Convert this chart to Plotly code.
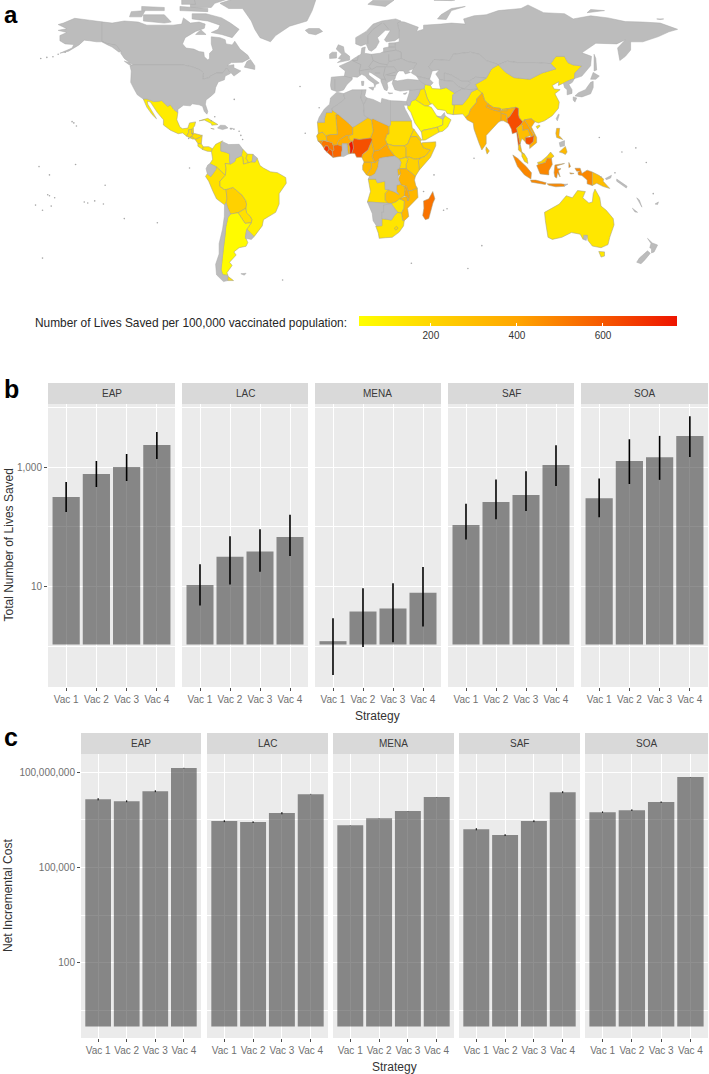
import plotly.graph_objects as go
from plotly.colors import sample_colorscale

W, H = 709, 1074
GRAY = "#bcbcbc"
COLOR_SCALE = [[0, "#FFFF00"], [0.5, "#FFA500"], [1, "#EE1400"]]
VMIN, VMAX = 33, 772
LEGEND_TITLE = "Number of Lives Saved per 100,000 vaccinated population:"
LEGEND_TICKS = [200, 400, 600]

# ---- bar data -------------------------------------------------------------
STRATEGIES = ["Vac 1", "Vac 2", "Vac 3", "Vac 4"]
REGIONS = ["EAP", "LAC", "MENA", "SAF", "SOA"]

LIVES = {
    "EAP": [316, 765, 1000, 2326],
    "LAC": [10.8, 32, 39, 68],
    "MENA": [1.25, 3.9, 4.4, 8.0],
    "SAF": [108, 260, 340, 1080],
    "SOA": [300, 1260, 1450, 3300],
}
LIVES_LOW = {
    "EAP": [178, 464, 584, 1359],
    "LAC": [4.9, 11, 18, 33],
    "MENA": [0.34, 1.0, 1.2, 2.2],
    "SAF": [62, 135, 185, 480],
    "SOA": [145, 520, 610, 1470],
}
LIVES_HIGH = {
    "EAP": [562, 1259, 1648, 3831],
    "LAC": [24, 70, 92, 160],
    "MENA": [3.0, 9.5, 11.5, 21.5],
    "SAF": [245, 620, 850, 2300],
    "SOA": [640, 2900, 3300, 7000],
}
COST = {
    "EAP": [1.41e7, 1.22e7, 2.52e7, 1.34e8],
    "LAC": [2.88e6, 2.68e6, 5.14e6, 2.03e7],
    "MENA": [2.15e6, 3.57e6, 5.94e6, 1.64e7],
    "SAF": [1.61e6, 1.05e6, 2.88e6, 2.35e7],
    "SOA": [5.52e6, 6.38e6, 1.14e7, 6.97e7],
}
COST_ERR_FRAC = {
    "EAP": [0.08, 0.07, 0.07, 0.02],
    "LAC": [0.07, 0.06, 0.08, 0.02],
    "MENA": [0.01, 0.01, 0.01, 0.01],
    "SAF": [0.08, 0.07, 0.07, 0.07],
    "SOA": [0.05, 0.06, 0.05, 0.01],
}
BASE_B, BASE_C = 1.1, 1.0

# ---- map data: (lon, lat) outlines ---------------------------------------
GRAY_LANDS = {
    "Canada": [(-141,69.6),(-135,69),(-128,70),(-120,69.5),(-115,68),(-108,68),(-100,68),(-95,68.5),(-94,71.5),(-90,69),(-85,69.5),(-81.5,68.5),(-82,66.5),(-87,65),(-93,62),(-94.5,59),(-92.5,57),(-88,56.5),(-85,55.3),(-82.3,55),(-82,52.8),(-80,51.3),(-79,52),(-79,54.5),(-77,56),(-78,59),(-78,62.4),(-73,62),(-70,61),(-69.5,59),(-66,58.5),(-64.5,60.3),(-61.5,56.5),(-57,53.5),(-56,52),(-60,50.2),(-66.5,50),(-69,48.5),(-65,49),(-65,47.5),(-61,46),(-65,43.5),(-66.5,45),(-67.5,45.5),(-69.2,47.4),(-71.5,45),(-75,45),(-79,43.3),(-79,42.8),(-83,42),(-82.5,45),(-84.5,46.5),(-89,48),(-95,49),(-123,49),(-125,50),(-128,52),(-130,54.5),(-130,55.5),(-133,58.5),(-137.5,59),(-141,60.3)],
    "Alaska": [(-141,69.6),(-148,70.4),(-156.5,71.3),(-163,69),(-166,68.3),(-161,66.3),(-166,65.5),(-161,64.5),(-165,63),(-165,60.5),(-162,59),(-157,58.7),(-158,57),(-165,54.5),(-160,55.5),(-154,58.5),(-151,60.8),(-148,60.5),(-144,60),(-141,60),(-137.5,58.5),(-135,57.5),(-131,55),(-130,55.5),(-133,58.5),(-137.5,59),(-141,60.3)],
    "USA": [(-123,49),(-95,49),(-89,48),(-84.5,46.5),(-82.5,45),(-83,42),(-79,42.8),(-79,43.3),(-75,45),(-71.5,45),(-69.2,47.4),(-67.5,45.5),(-67,44.8),(-70,43.5),(-70.5,41.7),(-74,40.7),(-75.5,38),(-76,35.5),(-78,34),(-81,32),(-81.4,30),(-80,26.5),(-80.5,25.2),(-82,26.5),(-83,29),(-85,29.7),(-89,30.2),(-90,29.2),(-94,29.5),(-97.2,27.5),(-97.2,26),(-99.5,27.5),(-101.5,29.8),(-103,29),(-106.5,31.8),(-108.2,31.4),(-111,31.3),(-114.8,32.5),(-117.1,32.5),(-120.5,34.5),(-122.5,37.5),(-124.3,40.5),(-124,46),(-124.7,48.4)],
    "Baffin": [(-62,66),(-66,62),(-72,63.5),(-78,64.5),(-74,66),(-73,68),(-80,70),(-89,71),(-89,73.5),(-81,73.5),(-72,71.5),(-67,69)],
    "Victoria": [(-117,70),(-105,69),(-101,69.5),(-105,73),(-117,73)],
    "Banks": [(-125,72),(-118,72),(-116,75),(-124,74.5)],
    "Ellesmere": [(-90,76.5),(-78,76.5),(-76,78.5),(-65,81.5),(-62,83),(-90,82)],
    "Devon": [(-96,75),(-80,74.5),(-80,76),(-96,77)],
    "Melville": [(-118,75),(-105,75),(-105,76.5),(-118,77)],
    "Axel": [(-95,78),(-87,78),(-88,81),(-95,81)],
    "Newfoundland": [(-59,47.8),(-53,46.7),(-53,48.5),(-55.5,51.5),(-57.5,50.5)],
    "Vancouver": [(-128,50.7),(-125,50),(-123.5,48.5),(-125,48.8)],
    "Southampton": [(-87,63.5),(-81,63.5),(-84,65.8)],
    "Greenland": [(-73,78.5),(-68,76),(-60,76),(-55,70),(-53,66),(-50,62),(-44,60),(-41,63),(-33,67.5),(-23,70),(-20,75),(-18,80),(-25,83),(-50,82.5),(-62,81.5)],
    "Iceland": [(-24,65.5),(-22,64),(-18,63.4),(-14,65),(-16,66.4),(-22,66.4)],
    "Hispaniola": [(-74.4,18.5),(-72.8,19.9),(-70,19.8),(-68.4,18.6),(-71.5,17.8)],
    "PuertoRico": [(-67.2,18.5),(-65.7,18.4),(-66,18),(-67.2,18)],
    "Venezuela": [(-72.5,11),(-71.5,12),(-68,10.6),(-62,10.7),(-60,8.5),(-60.7,5.2),(-64,4),(-64.5,2.5),(-67,1.2),(-67.5,2.8),(-67.5,6.2),(-70,7),(-72.5,7.5)],
    "FrGuiana": [(-54,5.9),(-51.7,4.2),(-52.8,2.2),(-54.5,2.3)],
    "Ecuador": [(-78.8,1.4),(-75.2,-0.1),(-75.5,-1.5),(-78.3,-4.8),(-80.3,-3.4),(-81,-1),(-80,0.8)],
    "Uruguay": [(-58.4,-33.9),(-57.6,-30.2),(-53.4,-33.7),(-55,-35),(-58.4,-34.5)],
    "Chile": [(-70.4,-18.4),(-69.5,-17.5),(-68.5,-20),(-67,-22.8),(-68.5,-24.5),(-69.7,-29),(-70,-33),(-71,-39),(-71.7,-44),(-72.4,-49.5),(-71.5,-52),(-68.4,-52.3),(-68.6,-54.8),(-71,-55.3),(-75,-52),(-75.5,-47),(-73.5,-42),(-73.5,-37),(-71.5,-30),(-70.5,-24)],
    "Falklands": [(-61,-51.5),(-58,-51.3),(-59,-52.2)],
    "Morocco": [(-5.9,35.8),(-2,35.1),(-1.2,32.5),(-5,30),(-8.7,28),(-8.7,26),(-12,26),(-13,23),(-13,21.3),(-17,21.3),(-16,23.7),(-13,27.7),(-10,30),(-9.5,33)],
    "Algeria": [(-2,35.1),(3,36.9),(8.6,36.9),(8,33),(9.5,30),(10,24.5),(12,23.5),(4,19.1),(3.2,19),(1.2,20.7),(-4.9,25),(-8.7,27.3),(-8.7,28),(-5,30),(-1.2,32.5)],
    "Tunisia": [(8.6,36.9),(11,37),(10.2,34),(11.5,33),(10,30.2),(9.5,30),(8,33)],
    "Libya": [(11.5,33),(15,32.3),(19.5,30.5),(20,32.8),(25,31.7),(25,20),(24,19.5),(15,23),(14,22.6),(12,23.5),(10,24.5),(9.5,30),(10,30.2)],
    "Egypt": [(25,31.7),(31,31.5),(34.2,31.3),(34.9,29.5),(32.6,29.5),(33.5,27.5),(37,22),(25,22)],
    "DRCongo": [(12.2,-6),(13,-4.6),(14,-4.5),(16,-3.5),(17.7,-0.5),(18.5,3.5),(19,4),(22,4.5),(27.5,5),(30,3.5),(31,2),(30,-1),(29,-1.3),(29,-2.5),(29.5,-4.4),(29.5,-6.2),(30.7,-8.5),(28.5,-9),(28.5,-12),(29.8,-13.4),(27,-12),(23.5,-11),(22,-11),(21.8,-7),(17.5,-7.8),(16.5,-6)],
    "Ghana": [(-3.2,5),(-2,4.8),(0.7,6),(0.3,8),(0,11),(-2.8,11),(-2.7,8),(-3.2,6.5)],
    "Namibia": [(11.7,-17),(13.5,-17),(18.5,-17.4),(23.5,-17.6),(25.3,-17.8),(21,-18.5),(21,-22),(20,-22),(20,-28.4),(17,-28.6),(15,-26),(14.5,-22.5)],
    "Botswana": [(21,-18.5),(25.3,-17.8),(29,-22),(27,-23.7),(25.5,-25.7),(23,-25.3),(20,-25),(20,-22),(21,-22)],
    "Russia": [(28,70),(33,69.5),(41,67),(40,65),(44,66),(44,68),(54,68.5),(60,69),(68,68.5),(67,71),(73,72.5),(80,73),(87,75),(100,76),(104,77.7),(113,74),(125,73.5),(130,71),(140,72.5),(150,71.5),(160,69.7),(170,69.5),(180,69),(190,66),(185,64.8),(179,62.5),(170,60),(163,60),(163,56),(160,53),(156.8,51),(155.5,57),(160,61),(155,59),(143,59.3),(135,54.7),(140.5,53),(140,48.5),(135,43.5),(130.7,42.3),(131,45),(135,48.4),(130,48.9),(127,50),(125,53),(120,53),(117,49.5),(108,50),(98,50),(92,50.7),(87,49),(80,51),(76,54),(71,55),(61,54),(59,51),(50,51.5),(47,48),(49,46),(47.5,42),(40,43.5),(37,45),(38,47),(40,49.6),(35,50.5),(31,52),(31,55),(28,56),(27.5,59.5),(30,60),(30,62),(30,65),(29,69)],
    "Sakhalin": [(142,54),(143,52),(143.5,46.5),(142,46),(142,50)],
    "NovayaZemlya": [(52,71),(57,70.7),(60,75),(68,77),(60,76),(54,73)],
    "Svalbard": [(12,78),(22,77),(27,80),(15,80)],
    "FranzJosef": [(50,80),(60,79.8),(62,80.1),(50,80.1)],
    "Novosibirsk": [(138,74),(148,75),(140,75.5)],
    "Wrangel": [(178,71),(182,71),(180,70.7)],
    "Kazakhstan": [(50,51.5),(59,51),(61,54),(71,55),(76,54),(80,51),(87,49),(83,47),(80,42.5),(74,43),(70,41),(66,41),(60,44),(56,45),(56,41.3),(53,42),(51,44.5),(53,46.5),(49,46),(47,48)],
    "Uzbekistan": [(56,45),(60,44),(66,41),(70,41),(71,40),(67.5,37.2),(64,38.5),(61,41),(56,41.3)],
    "Turkmenistan": [(53,42),(56,41.3),(61,41),(64,38.5),(67.5,37.2),(66,37.3),(62,35.3),(57,38),(53.8,37.3),(53,40)],
    "KyrgyzTajik": [(70,41),(74,43),(80,42.5),(73.7,39.5),(75,37.3),(71,37),(67.5,37.2),(71,40)],
    "Afghanistan": [(60.8,34.5),(60.5,29.8),(66.3,29.8),(69.5,33),(71.5,36),(75,37.3),(71,37),(67.5,37.2),(66,37.3),(62,35.3)],
    "UAE": [(51.5,24.2),(54,24.1),(56,26),(56.3,24.5),(55.2,22.7)],
    "Levant": [(36,36.8),(42.2,37.2),(41,34.4),(39.2,32.2),(37,31.5),(36,29.2),(34.9,29.5),(34.2,31.3),(35.8,35.5)],
    "Turkey": [(26,40),(26.5,41.7),(29,41.2),(35,42),(41.5,41.5),(44.8,39.5),(44.3,37.5),(42.2,37.2),(36,36.8),(30.5,36.3),(27.5,37)],
    "Caucasus": [(40,43.5),(47.5,42),(49.5,40.3),(48,39),(44.8,39.5),(41.5,41.5)],
    "Ukraine": [(22.5,48),(24,50.5),(31,52),(35,50.5),(40,49.6),(38,47),(35,46),(36.5,45.3),(33.5,44.5),(32.5,46),(30,46),(29,45.3),(27,48)],
    "Europe": [(-9,43),(-1.5,43.5),(-1,46),(-4.5,48.3),(1.5,50.5),(4,52),(8,54),(8.5,57),(10.5,57.5),(10,54.5),(14,54),(19,54.5),(21,55.3),(21,57),(24,57.5),(24,59.4),(27.5,59.5),(28,56),(31,55),(31,52),(24,50.5),(22.5,48),(27,48),(29,45.3),(28,43.5),(27.5,42),(26.2,41.7),(24,40.8),(23,40.3),(23.5,38),(23,36.5),(21.5,37),(19.5,41),(19.5,42),(14,45),(12.5,45.5),(12.5,44),(16,41.8),(18.5,40.2),(16.5,39.5),(16,38),(15.5,40),(12,42),(10.5,43.5),(8.5,44.4),(6,43),(3,43.2),(3,41.9),(0,39.5),(-2,36.8),(-5.5,36),(-9,37),(-9.5,39)],
    "Scandinavia": [(5,59),(5,62),(11,65),(15,68.5),(20,70),(28,71),(31,70),(29,69),(30,65),(30,62),(27.5,60.5),(22.5,60),(21.5,61),(25,65.5),(22,65.5),(17.5,62),(18.5,60),(16.5,57),(14,55.5),(12.5,56),(11,59),(8,58)],
    "Britain": [(-5.5,50),(1.5,51.2),(1.5,53),(-1.5,55),(-2,57.6),(-5,58.6),(-6.2,56.5),(-3,54),(-5,52),(-3,51.4)],
    "Ireland": [(-10,52),(-6,52.2),(-6,55),(-8.5,55),(-10,54)],
    "Sardinia": [(8.3,41),(9.7,41),(9.5,39),(8.5,39)],
    "Sicily": [(12.5,38),(15.5,38.2),(15,36.7)],
    "Crete": [(23.5,35.5),(26.3,35.3),(24.5,35)],
    "Cyprus": [(32.3,35),(34.5,35.6),(33.5,34.7)],
    "Mongolia": [(87,49),(92,50.7),(98,50),(108,50),(117,49.5),(120,47),(116,46),(112,45),(105,42),(96,42.8),(91,45.5)],
    "Korea": [(124.4,40),(128,41.5),(130.7,42.3),(129.5,40.5),(127.5,39.5),(129.3,37),(129.3,35.2),(126.5,34.5),(126.5,37),(125,38)],
    "Honshu": [(131,34),(135,33.5),(140,35),(141.5,38),(141.5,41),(140,40.5),(137,37),(133,35.5)],
    "Kyushu": [(130,33.5),(132,33),(131,31),(130,32)],
    "Hokkaido": [(140,42),(141.5,45.3),(145,43.5),(143,42)],
    "Taiwan": [(120.2,23),(121.5,25.2),(122,25),(120.9,22)],
    "Visayas": [(122,11.5),(125,12.5),(125,10),(122.5,9.5)],
    "NewBritain": [(148.5,-5.7),(152,-4.2),(151.5,-5.5),(149,-6.3)],
    "Solomon": [(155,-6),(161,-9.5),(160.5,-10.3),(155,-7)],
    "NewCaledonia": [(164,-20),(167,-22),(165.5,-21.8)],
    "Vanuatu": [(166.5,-15),(168,-16),(169.5,-19.5),(168.5,-18)],
    "Fiji": [(177,-18),(179,-17),(178.5,-18.2)],
    "NZNorth": [(172.7,-34.5),(175.5,-36.7),(178.5,-37.7),(176.5,-41),(175,-41.5),(175,-39.5),(174,-39),(174.7,-37)],
    "NZSouth": [(172.7,-40.5),(174.3,-41.7),(171,-45),(169,-46.7),(166.5,-46),(168,-44)],
    "SpencerGulf": [(136,-33),(138,-33),(137.5,-35.5),(136,-35)],
    "TimorEast": [(125,-8.5),(127,-8.4),(125,-9.4)],
}

COUNTRIES = {
    "Mexico": (110, [(-117.1,32.5),(-114.8,32.5),(-111,31.3),(-108.2,31.4),(-106.5,31.8),(-103,29),(-101.5,29.8),(-99.5,27.5),(-97.2,26),(-97.8,22.5),(-96,19),(-94.5,18.2),(-91.5,18.5),(-90.5,21),(-87,21.5),(-87.6,19.5),(-88.3,18.5),(-89.1,17.9),(-91,17.8),(-91,16.5),(-92.2,14.6),(-94.5,16.2),(-97,15.8),(-101.5,17.5),(-105.5,20),(-105.5,22.5),(-109,26),(-113,31),(-114.7,31.5),(-114.5,30),(-110.5,24.5),(-109.5,23),(-112,25),(-115,28.5)]),
    "Guatemala": (170, [(-92.2,14.6),(-91,16.5),(-91,17.8),(-89.1,17.9),(-89.2,15.9),(-88.3,15.7),(-89.3,14.4),(-90.5,13.9)]),
    "Belize": (130, [(-89.1,17.9),(-88.3,18.5),(-88.2,16.2),(-89.2,15.9)]),
    "Honduras": (170, [(-89.2,15.9),(-87.5,15.9),(-83.2,15),(-84.7,14),(-87.3,13),(-87.8,13.4),(-89.3,14.4),(-88.3,15.7)]),
    "ElSalvador": (130, [(-90,13.7),(-89.3,14.4),(-87.8,13.4),(-88.5,13.2)]),
    "Nicaragua": (170, [(-87.3,13),(-84.7,14),(-83.2,15),(-83.7,11),(-85.7,11.1)]),
    "CostaRica": (110, [(-85.7,11.1),(-83.7,11),(-82.6,9.5),(-83,8.2),(-85.7,9.8)]),
    "Panama": (130, [(-83,8.2),(-82.6,9.5),(-79.5,9.6),(-77.3,8.6),(-77.9,7.2),(-80.3,7.4)]),
    "Cuba": (90, [(-85,22),(-80,23.2),(-74.2,20.2),(-77.7,19.9),(-78,20.7),(-82,22.4)]),
    "Jamaica": (90, [(-78.3,18.4),(-76.3,18),(-77,17.8)]),
    "Colombia": (110, [(-77.9,7.2),(-77.3,8.6),(-75.5,10.7),(-71.5,12.4),(-72.5,11),(-72.5,7.5),(-70,7),(-67.5,6.2),(-67.5,2.8),(-67,1.2),(-70,1.5),(-69.5,-1),(-69.9,-4.2),(-72,-2.5),(-75.2,-0.1),(-78.8,1.4),(-77.2,3.5)]),
    "Guyana": (120, [(-60,8.5),(-57.2,6),(-58,4),(-56.5,1.9),(-59.5,1.2),(-60,4.5),(-60.7,5.2)]),
    "Suriname": (120, [(-57.2,6),(-54,5.9),(-54.5,2.3),(-56.5,1.9),(-58,4)]),
    "Peru": (160, [(-80.3,-3.4),(-78.3,-4.8),(-75.5,-1.5),(-75.2,-0.1),(-72,-2.5),(-69.9,-4.2),(-73,-7),(-73,-9.5),(-70.5,-11),(-69.5,-11),(-69,-15.5),(-69.5,-17.5),(-70.4,-18.4),(-75,-15.5),(-77,-12),(-79.5,-7),(-81.3,-4.7)]),
    "Bolivia": (220, [(-69.5,-11),(-65.5,-10),(-60.3,-13.7),(-58.2,-16.3),(-57.7,-18),(-58,-20),(-62.6,-22.2),(-67,-22.8),(-68.5,-20),(-69.5,-17.5),(-69,-15.5)]),
    "Paraguay": (160, [(-58,-20),(-57.7,-22.2),(-55.5,-24),(-54.6,-25.5),(-55,-27),(-58.6,-27.3),(-62.6,-22.2)]),
    "Brazil": (100, [(-60,4.5),(-59.5,1.2),(-56.5,1.9),(-54.5,2.3),(-52.8,2.2),(-51.7,4.2),(-50,0.5),(-48,-0.7),(-44,-2.5),(-40,-2.9),(-35.2,-5.3),(-34.9,-8),(-39,-13),(-39,-18),(-41,-22),(-48,-25.5),(-48.7,-28.5),(-53.4,-33.7),(-57.6,-30.2),(-55,-27),(-54.6,-25.5),(-55.5,-24),(-57.7,-22.2),(-58,-20),(-57.7,-18),(-58.2,-16.3),(-60.3,-13.7),(-65.5,-10),(-69.5,-11),(-70.5,-11),(-73,-9.5),(-73,-7),(-69.9,-4.2),(-69.5,-1),(-70,1.5),(-67,1.2),(-64.5,2.5),(-64,4),(-60.7,5.2)]),
    "Argentina": (50, [(-67,-22.8),(-62.6,-22.2),(-58.6,-27.3),(-55,-27),(-57.6,-30.2),(-58.4,-33.9),(-57,-36.5),(-58,-38.3),(-62,-39),(-65,-41),(-63.7,-42.5),(-67.5,-46),(-66,-47.5),(-69,-51),(-68.4,-52.3),(-71.5,-52),(-72.4,-49.5),(-71.7,-44),(-71,-39),(-70,-33),(-69.7,-29),(-68.5,-24.5)]),
    "TierraDelFuego": (150, [(-68.6,-52.6),(-65.2,-54.8),(-68.6,-54.8)]),
    "Sudan": (170, [(24,19.5),(25,20),(25,22),(37,22),(37.5,18.5),(38.5,18),(36.5,14.3),(35,11),(33,10),(27,10),(23,10.9),(22,13),(23,15.7),(24,15.7)]),
    "SouthSudan": (220, [(23,10.9),(27,10),(33,10),(34,9),(34,4.5),(30,3.5),(27.5,5),(24,8.7)]),
    "Eritrea": (190, [(36.5,14.3),(38.5,18),(43,12.7),(42,12.5),(40,14.5)]),
    "Ethiopia": (240, [(36.5,14.3),(40,14.5),(42,12.5),(42.8,11),(44,9),(48,8),(45,5),(42,4),(39,3.5),(36,4.5),(34,4.5),(34,9),(33,10),(35,11)]),
    "Somalia": (220, [(42.8,11),(43.3,11.5),(51,11.9),(51,10),(48,4.5),(41.5,-1.7),(41,2.8),(42,4),(45,5),(48,8),(44,9)]),
    "Kenya": (220, [(34,4.5),(36,4.5),(39,3.5),(42,4),(41,2.8),(41.5,-1.7),(39.3,-4.7),(37.7,-3.5),(34,-1),(34,1),(35,3.5)]),
    "Uganda": (180, [(30,3.5),(34,4.5),(35,3.5),(34,1),(34,-1),(30,-1),(31,2)]),
    "Tanzania": (340, [(30,-1),(34,-1),(37.7,-3.5),(39.3,-4.7),(38.8,-6.5),(39.5,-9),(40.4,-10.4),(37,-11.6),(34.9,-11.5),(34,-9.5),(31,-8.7),(29.5,-6.2),(30.7,-3.5)]),
    "RwandaBurundi": (300, [(29,-1.3),(30,-1),(30.7,-3.5),(29.5,-4.4),(29,-2.5)]),
    "Congo": (320, [(11.2,-4),(13,-4.6),(14,-4.5),(16,-3.5),(17.7,-0.5),(18.5,3.5),(16,2),(14,2),(14,-0.5),(12.5,-2.5)]),
    "Gabon": (320, [(9,0.5),(9.8,2.2),(13.3,2.2),(14,2),(14,-0.5),(12.5,-2.5),(11.2,-4),(9,-1.5)]),
    "Cameroon": (330, [(8.5,4.5),(9.8,2.2),(13.3,2.2),(16,2),(14.5,5),(15.5,7.5),(14,12.5),(14.5,13),(13,10),(12,8),(10.5,6.8),(8.8,5.8)]),
    "CAR": (390, [(14.5,5),(16,2),(18.5,3.5),(19,4),(22,4.5),(27.5,5),(24,8.7),(23,10.9),(20,9),(18.5,8),(15.5,7.5)]),
    "Chad": (360, [(14,12.5),(15.5,7.5),(18.5,8),(20,9),(23,10.9),(22,13),(23,15.7),(24,15.7),(24,19.5),(15,23),(14,22.6),(15,17),(13.5,14)]),
    "Niger": (250, [(3.2,11.8),(4,13.5),(7,13),(10,13.3),(13.5,13.7),(15,17),(14,22.6),(12,23.5),(4,19.1),(3.2,19),(3.2,15.5),(1,15),(1,13.4),(2.5,12.2)]),
    "Nigeria": (620, [(2.7,6.4),(4.5,6.3),(5.5,4.5),(7,4.4),(8.5,4.5),(8.8,5.8),(10.5,6.8),(12,8),(13,10),(14.5,13),(13.5,13.7),(10,13.3),(7,13),(4,13.5),(3.2,11.8),(3.7,9)]),
    "Benin": (770, [(1.6,6.2),(2.7,6.4),(3.7,9),(3.2,11.8),(2.5,12.2),(0.9,11),(1.6,9)]),
    "Togo": (330, [(0.9,11),(1.6,9),(1.6,6.2),(0.7,6),(0.3,8),(0,11)]),
    "BurkinaFaso": (370, [(-5.5,10.5),(-2.8,9.8),(-2.8,11),(0,11),(0.9,11),(2.5,12.2),(1,13.4),(1,15),(-0.5,15),(-2,14.2),(-4.5,12.8),(-5.5,11.5)]),
    "CoteDIvoire": (560, [(-8,4.4),(-3.2,5),(-3.2,6.5),(-2.7,8),(-2.8,9.8),(-5.5,10.5),(-8,10.3),(-7.5,8),(-8.5,7.5)]),
    "Liberia": (620, [(-11.5,6.9),(-8,4.4),(-8.5,7.5),(-9.5,8.5),(-10.3,8.5)]),
    "SierraLeone": (690, [(-13.3,8.5),(-11.5,6.9),(-10.3,8.5),(-11,10),(-12.5,10)]),
    "Guinea": (520, [(-15,11),(-13.3,9),(-12.5,10),(-11,10),(-10.3,8.5),(-9.5,8.5),(-8.5,7.5),(-7.5,8),(-8,10.3),(-8.5,11.5),(-10.5,12),(-13.7,12.6)]),
    "GuineaBissau": (440, [(-16.7,12.3),(-15,11),(-13.7,12.6)]),
    "Senegal": (270, [(-17.5,14.7),(-16.5,16),(-14,16.6),(-12,14.8),(-11.5,12.4),(-13.7,12.6),(-16.7,12.3)]),
    "Mali": (370, [(-12,14.8),(-11.5,12.4),(-10.5,12),(-8.5,11.5),(-8,10.3),(-5.5,10.5),(-5.5,11.5),(-4.5,12.8),(-2,14.2),(-0.5,15),(1,15),(3.2,15.5),(3.2,19),(1.2,20.7),(-4.9,25),(-6.5,25),(-5.5,15.5),(-10,15.4)]),
    "Mauritania": (240, [(-17,21.3),(-13,21.3),(-13,23),(-12,26),(-8.7,26),(-8.7,27.3),(-4.9,25),(-6.5,25),(-5.5,15.5),(-10,15.4),(-12,14.8),(-14,16.6),(-16.5,16)]),
    "Angola": (170, [(11.7,-17),(13.5,-12),(12.2,-6),(16.5,-6),(17.5,-7.8),(21.8,-7),(22,-11),(24,-11),(22,-13),(22,-16.2),(23.5,-17.6),(18.5,-17.4),(13.5,-17)]),
    "Zambia": (290, [(22,-13),(24,-11),(23.5,-11),(27,-12),(29.8,-13.4),(28.5,-12),(28.5,-9),(30.7,-8.5),(31,-8.7),(33,-9.5),(33.5,-11),(33,-14),(30.3,-15.5),(28,-17),(25.3,-17.8),(23.5,-17.6),(22,-16.2)]),
    "Zimbabwe": (130, [(25.3,-17.8),(28,-17),(30.3,-15.5),(33,-16.5),(32.8,-20),(31.3,-22.4),(29,-22)]),
    "Mozambique": (330, [(30.3,-15.5),(33,-14.5),(34.5,-14.5),(35,-16.5),(35.8,-14.5),(34.9,-11.5),(37,-11.6),(40.4,-10.4),(40.8,-14.8),(37,-18),(34.8,-20),(35.5,-24),(32.9,-26),(32,-26),(31.3,-22.4),(32.8,-20),(33,-16.5)]),
    "Malawi": (380, [(33,-9.5),(34,-9.5),(34.9,-11.5),(35.8,-14.5),(35,-16.5),(34.5,-14.5),(33,-14),(33.5,-11)]),
    "SouthAfrica": (140, [(16.5,-28.6),(17,-28.6),(20,-28.4),(20,-25),(23,-25.3),(25.5,-25.7),(27,-23.7),(29,-22),(31.3,-22.4),(32,-26),(32.9,-26),(32.5,-28.5),(30,-31.5),(26,-34),(22,-34.2),(18.5,-34.5),(18,-32)]),
    "Lesotho": (180, [(27.2,-29.6),(28.5,-28.7),(29.4,-29.6),(28,-30.6)]),
    "Madagascar": (530, [(49.3,-12),(50.5,-15.5),(49.4,-17.5),(47,-25),(45,-25.5),(43.5,-23.5),(44.2,-20),(44,-16.5),(47,-15.5)]),
    "Pakistan": (130, [(61,25),(61.6,29.4),(60.5,29.8),(66.3,29.8),(69.5,33),(71.5,36),(75,37.3),(77.8,35.5),(74.5,32.5),(74.5,31),(71,27.5),(70,25),(68,23.7),(66.5,25.3)]),
    "Iran": (50, [(44.8,39.5),(48,39),(49,37.5),(53.8,37.3),(57,38),(62,35.3),(60.8,34.5),(60.5,29.8),(61.6,29.4),(61,25),(57.5,25.5),(56.5,27),(52,27.5),(49,30.3),(48,30),(46,33),(45,36),(44.3,37.5)]),
    "Iraq": (130, [(42.2,37.2),(44.3,37.5),(45,36),(46,33),(48,30),(46.5,29.1),(44.7,29.2),(39.2,32.2),(41,34.4)]),
    "SaudiArabia": (40, [(34.9,29.5),(36,29.2),(37,31.5),(39.2,32.2),(44.7,29.2),(46.5,29.1),(48.5,28.5),(50.2,26.5),(51.5,24.5),(55.2,22.7),(55,20),(52,19),(48.5,18.2),(43.5,17.4),(42.8,16.5),(39,21),(36.7,26),(34.9,28)]),
    "Yemen": (130, [(42.8,16.5),(43.5,17.4),(48.5,18.2),(52,19),(53,16.6),(45,12.8),(43.4,12.7)]),
    "Oman": (70, [(52,19),(55,20),(55.2,22.7),(56.3,24.5),(59.8,22.5),(57.8,19),(55,17),(53,16.6)]),
    "China": (130, [(73.7,39.5),(80,42.5),(83,47),(87,49),(91,45.5),(96,42.8),(105,42),(112,45),(116,46),(120,47),(117,49.5),(120,53),(125,53),(127,50),(130,48.9),(135,48.4),(131,45),(130.7,42.3),(128,41.5),(124.4,40),(121.5,39),(121.7,40.8),(118,39),(119,37.3),(122.5,37),(119.5,35),(122,31),(121.5,28),(118,24.5),(113.5,22),(110,21),(108,21.6),(106,23),(102,22.5),(101,21.5),(99,23.5),(98.5,25),(98.5,28),(97,28.5),(92,27.8),(89,27.5),(88,28),(84,28.5),(81,30.2),(79,32),(78,35),(75,37.3)]),
    "Hainan": (130, [(108.7,19.3),(110.5,20),(111,19.5),(109.5,18.2)]),
    "India": (340, [(77.8,35.5),(79,32),(81,30.2),(80,28.8),(84,27.3),(88,26.5),(88,28),(89,26.8),(92,27.8),(97,28.5),(95,26),(93.5,24),(92,23),(91.5,25),(89,25.5),(88.5,22),(87,21.3),(82,16.5),(80,15),(80,11),(77.5,8),(76,11),(73,18),(72.5,21),(69,22.5),(68,23.7),(70,25),(71,27.5),(74.5,31),(74.5,32.5)]),
    "Nepal": (370, [(80,28.8),(81,30.2),(84,28.5),(88,28),(88,26.5),(84,27.3)]),
    "Bhutan": (280, [(89,27.5),(92,27.8),(92,26.8),(89,26.8)]),
    "Bangladesh": (360, [(88.5,26),(89,25.5),(91.5,25),(92,23),(92.3,21),(90,22),(88.5,22)]),
    "SriLanka": (300, [(80,9.5),(81.8,7.5),(80.5,6),(79.8,8)]),
    "Myanmar": (630, [(92.3,21),(92,23),(93.5,24),(95,26),(97,28.5),(98.5,28),(98.5,25),(99,23.5),(101,21.5),(100,20.3),(97.5,18.5),(98.5,15),(99.5,11),(98.5,10),(97.5,16.5),(95,15.8),(94.5,18),(93,20.5)]),
    "Thailand": (300, [(100,20.3),(101,19.5),(101,17.5),(104,18),(105.5,15),(102.5,14),(102.5,12),(100.5,13.5),(99.5,11),(100.5,7),(102,6),(100.5,6.5),(98.5,8),(98.5,10),(99.5,11),(98.5,15),(97.5,18.5)]),
    "Laos": (400, [(101,21.5),(102,22.5),(104,20),(107,16),(107.5,15),(105.5,14.2),(105.5,15),(104,18),(101,17.5),(101,19.5),(100,20.3)]),
    "Vietnam": (360, [(102,22.5),(106,23),(108,21.6),(106,19),(109,14),(109,11.5),(105,8.7),(105,10.5),(107,12),(107.5,15),(107,16),(104,20)]),
    "Cambodia": (620, [(102.5,14),(105.5,14.2),(107.5,15),(107,12),(105,10.5),(103,11),(102.5,12)]),
    "MalaysiaPen": (200, [(100.5,6.5),(102,6),(103.5,4),(104,1.5),(102,2.5),(100.5,5)]),
    "MalaysiaBorneo": (230, [(109.5,2),(111.5,2.5),(115,5),(117,7),(119,5),(117.5,4),(115,4),(114,2),(110,1)]),
    "Kalimantan": (480, [(109,0.5),(110,1),(114,2),(115,4),(117.5,4),(118,1),(116,-2),(116,-4),(111,-3.5),(110,-1.5)]),
    "Sumatra": (480, [(95.3,5.6),(98,4),(103,0),(106,-3),(105.7,-6),(102,-4),(98,0),(95.3,5)]),
    "Java": (480, [(105.5,-6.5),(108.5,-6.5),(114.5,-7.8),(114,-8.6),(106,-7.5)]),
    "Sundas": (480, [(115,-8.3),(119,-8.2),(123,-8.3),(125,-8.5),(125,-9.5),(120,-9.7),(116,-9)]),
    "Sulawesi": (480, [(119.5,0.8),(125,1.5),(120.5,0.3),(121,-1),(123,-1),(121.5,-2),(122.5,-5),(121,-3),(120.5,-5.5),(119.5,-5),(119,-3)]),
    "Halmahera": (480, [(127.5,2),(128.5,0),(127.5,-0.5)]),
    "Seram": (480, [(128,-3),(130.5,-3.3),(128.5,-3.6)]),
    "Papua": (480, [(131,-0.8),(134,-0.8),(135,-3.3),(138,-1.7),(141,-2.6),(141,-9.1),(138,-8.3),(138,-6.5),(135,-4.3),(133,-4),(132.7,-2.8),(134,-2.2),(132,-2.2)]),
    "PNG": (300, [(141,-2.6),(145,-4.3),(147.5,-6),(147.2,-7),(151,-10.5),(147,-9.5),(143.5,-8),(141,-9.1)]),
    "Luzon": (340, [(120.5,18.4),(122.2,18.4),(121.8,15),(124,13),(120.5,14),(120,16)]),
    "Mindanao": (320, [(122,7),(125.5,9.7),(126.5,7),(125.5,5.8),(124,6.5)]),
    "Australia": (130, [(113.5,-22),(114,-26),(115.5,-34),(118,-35),(123.5,-34),(129,-31.7),(134,-32.5),(135.7,-35),(138,-33),(138.5,-35.5),(141,-38.2),(146,-39),(150,-37.5),(151,-34),(153.5,-28),(153,-25),(149,-21),(146,-19),(145.3,-15),(142.5,-10.8),(141.5,-13),(141,-17),(139,-17.5),(135.5,-15),(137,-12),(132.5,-11.5),(129.5,-15),(126,-14),(122,-18),(117,-20.5)]),
    "Tasmania": (130, [(144.7,-40.8),(148,-41),(148,-43),(146,-43.5)]),
}

BORDERS = [
    [(-1.5,43.5),(3,42.5)], [(3,51),(8,49),(7,46),(7.5,44)], [(14,54),(15,51),(12.5,48),(14,47),(10,46.5),(7,46)],
    [(6.5,53.5),(6,51),(3,51)], [(15,51),(19,49.5),(23,49)], [(17,48),(22,48)], [(22,48),(21,44),(22.5,41)],
    [(28,43.7),(23,44)], [(16,45),(19,45)], [(-7,42),(-7,37)], [(24,54),(24,50.5)], [(21,55),(28,56)], [(24,57.5),(27.5,57.5)],
    [(12,59),(12,63),(15,66),(20,69)], [(24,66),(21,69)], [(14,46.5),(17,48)], [(19.5,42),(22,42)], [(28,45.5),(22,44)],
]

ISLANDS_LON = [-155.5,-157,-158,-171,-139,-179,-171,-175,-145,-140,-175,-90.5,-128,-109,-37,-156,-27,-16,-24,-64.8,57.5,55.5,69.5,44,73,-172.5,-176,-169,-166,-162,-172,-168,158,145,166,172,-170,-151,-149,-62,-61,-60,-90,-91,146,154,176,77.5,37,50,-177,-65,-76,-78]
ISLANDS_LAT = [19.5,21,21.6,-4,-9,-18.5,-14,-21,-16.5,-18,-44,-0.7,-25,-27,-54.5,1,38.5,28.3,16,32.3,-20.3,-21,-49,-12,4,52.5,52,52.8,54,55,-13.5,-15,7,14,9,2,-19,-17,-17.5,17,15,13,14,13.5,-5,-3,-13,-38,-46.5,-4,0,18,24,22]

# ---- layout helpers -------------------------------------------------------
def xd(l, r): return [l / W, r / W]
def yd(t, b): return [1 - b / H, 1 - t / H]

FONT = "Liberation Sans, Arial, sans-serif"
TICK_C = "#707070"
fig = go.Figure()
shapes, annos = [], []

# ---- map ------------------------------------------------------------------
LON_PER_PX, LAT_PER_PX = 1 / 1.74, 1 / 2.08
map_x = [-347 * LON_PER_PX, (W - 347) * LON_PER_PX]
map_y = [(166.6 - 300) * LAT_PER_PX, 166.6 * LAT_PER_PX]
fig.update_layout(
    xaxis=dict(domain=xd(0, W), range=map_x, visible=False),
    yaxis=dict(domain=yd(0, 300), range=map_y, visible=False),
)

def poly(points, fill, line, width):
    lon = [p[0] for p in points] + [points[0][0]]
    lat = [p[1] for p in points] + [points[0][1]]
    fig.add_trace(go.Scatter(x=lon, y=lat, mode="lines", fill="toself", fillcolor=fill,
                             line=dict(color=line, width=width), hoverinfo="skip", showlegend=False))

def outline(points, closed):
    return "M " + " L ".join(f"{p[0]},{p[1]}" for p in points) + (" Z" if closed else "")

for value, pts in COUNTRIES.values():
    t = (value - VMIN) / (VMAX - VMIN)
    poly(pts, sample_colorscale(COLOR_SCALE, [t])[0], "rgba(165,160,130,0.9)", 0.6)
# grey land and its internal borders sit on the map axes as path shapes
for pts in GRAY_LANDS.values():
    shapes.append(dict(type="path", xref="x", yref="y", layer="above", path=outline(pts, True),
                       fillcolor=GRAY, line=dict(color="#a9a9a9", width=0.5)))
for seg in BORDERS:
    shapes.append(dict(type="path", xref="x", yref="y", layer="above", path=outline(seg, False),
                       fillcolor="rgba(0,0,0,0)", line=dict(color="#a6a6a6", width=0.5)))
fig.add_trace(go.Scatter(x=ISLANDS_LON, y=ISLANDS_LAT, mode="markers",
                         marker=dict(size=1.6, color="#a8a8a8"), hoverinfo="skip", showlegend=False))

# colour legend, driven by the country values
vals = [v for v, _ in COUNTRIES.values()]
fig.add_trace(go.Scatter(
    x=[p[0][0] for _, p in COUNTRIES.values()], y=[p[0][1] for _, p in COUNTRIES.values()],
    mode="markers", hoverinfo="skip", showlegend=False,
    marker=dict(size=1, opacity=0, color=vals, cmin=VMIN, cmax=VMAX, colorscale=COLOR_SCALE, showscale=True,
                colorbar=dict(orientation="h", lenmode="pixels", len=318, thicknessmode="pixels", thickness=10,
                              x=359 / W, xanchor="left", y=1 - 316 / H, yanchor="top", xpad=0, ypad=0,
                              outlinewidth=0, tickmode="array", tickvals=LEGEND_TICKS, ticks="inside",
                              tickcolor="white", ticklen=3, tickfont=dict(family=FONT, size=10, color="#333333"))),
))
annos.append(dict(xref="paper", yref="paper", x=33 / W, y=1 - 323 / H, xanchor="left", yanchor="middle",
                  text=LEGEND_TITLE, showarrow=False, font=dict(family=FONT, size=11.9, color="#262626")))

# ---- bar panels -----------------------------------------------------------
def row(first_axis, panels, strip_top, panel_top, panel_bottom, y_range, major, major_text, minor, data, low, high, base, ylabel, ylabel_x, err_w, bottom_title_y, center):
    for i, region in enumerate(REGIONS):
        n = first_axis + i
        l, r = panels[i]
        xn, yn = f"xaxis{n}", f"yaxis{n}"
        fig.update_layout({
            xn: dict(domain=xd(l, r), range=[-0.6, 3.6], anchor=f"y{n}", type="category",
                     categoryorder="array", categoryarray=STRATEGIES, showgrid=True, gridcolor="white", gridwidth=1,
                     ticks="outside", ticklen=3, tickcolor="#4d4d4d", tickwidth=1, zeroline=False, showline=False,
                     tickfont=dict(family=FONT, size=10, color=TICK_C), tickangle=0),
            yn: dict(domain=yd(panel_top, panel_bottom), type="log", range=y_range, anchor=f"x{n}",
                     tickmode="array", tickvals=major, ticktext=major_text if i == 0 else [""] * len(major),
                     showticklabels=i == 0, ticks="outside" if i == 0 else "", ticklen=3, tickcolor="#4d4d4d",
                     showgrid=True, gridcolor="white", gridwidth=1, zeroline=False, showline=False,
                     tickfont=dict(family=FONT, size=10, color=TICK_C),
                     minor=dict(tickmode="array", tickvals=minor, showgrid=True, gridcolor="white", gridwidth=0.5, ticks="")),
        })
        v, lo, hi = data[region], low[region], high[region]
        fig.add_trace(go.Bar(
            x=STRATEGIES, y=[a - base for a in v], base=base, width=0.9, xaxis=f"x{n}", yaxis=f"y{n}",
            marker=dict(color="rgba(51,51,51,0.55)", line=dict(width=0)), hoverinfo="skip", showlegend=False,
            error_y=dict(type="data", symmetric=False, array=[b - a for a, b in zip(v, hi)],
                         arrayminus=[a - b for a, b in zip(v, lo)], color="black", thickness=err_w, width=0),
        ))
        shapes.append(dict(type="rect", xref="paper", yref="paper", layer="below", line=dict(width=0), fillcolor="#ebebeb",
                           x0=l / W, x1=r / W, y0=1 - panel_bottom / H, y1=1 - panel_top / H))
        shapes.append(dict(type="rect", xref="paper", yref="paper", layer="below", line=dict(width=0), fillcolor="#d9d9d9",
                           x0=l / W, x1=r / W, y0=1 - panel_top / H, y1=1 - strip_top / H))
        annos.append(dict(xref="paper", yref="paper", x=(l + r) / 2 / W, y=1 - (strip_top + panel_top) / 2 / H,
                          text=region, showarrow=False, xanchor="center", yanchor="middle",
                          font=dict(family=FONT, size=10, color="#3a3a3a")))
    annos.append(dict(xref="paper", yref="paper", x=ylabel_x / W, y=1 - (panel_top + panel_bottom) / 2 / H, textangle=-90,
                      text=ylabel, showarrow=False, xanchor="center", yanchor="middle",
                      font=dict(family=FONT, size=12, color="#333333")))
    annos.append(dict(xref="paper", yref="paper", x=center / W, y=1 - bottom_title_y / H,
                      text="Strategy", showarrow=False, xanchor="center", yanchor="middle",
                      font=dict(family=FONT, size=12, color="#333333")))

PANELS_B = [(48, 175), (182, 308), (315, 441), (448, 574), (581, 708)]
PANELS_C = [(81, 201), (207, 328), (333, 454), (459, 580), (585, 708)]
COST_LOW = {r: [c * (1 - f) for c, f in zip(COST[r], COST_ERR_FRAC[r])] for r in REGIONS}
COST_HIGH = {r: [c * (1 + f) for c, f in zip(COST[r], COST_ERR_FRAC[r])] for r in REGIONS}

row(2, PANELS_B, 383, 404, 687, [-0.667, 4.05], [10, 1000], ["10", "1,000"], [1, 100, 10000],
    LIVES, LIVES_LOW, LIVES_HIGH, BASE_B, "Total Number of Lives Saved", 8, 1.6, 716, 378)
row(7, PANELS_C, 733, 754, 1038, [-0.36, 8.57], [100, 100000, 100000000], ["100", "100,000", "100,000,000"], [3162, 3162278, 3.16],
    COST, COST_LOW, COST_HIGH, BASE_C, "Net Incremental Cost", 8, 1.0, 1067, 394)

for letter, ypx, size in (("a", 14, 24), ("b", 389, 25), ("c", 737, 25)):
    annos.append(dict(xref="paper", yref="paper", x=2 / W, y=1 - ypx / H, text=f"<b>{letter}</b>", showarrow=False,
                      xanchor="left", yanchor="middle", font=dict(family=FONT, size=size, color="black")))

fig.update_layout(
    width=W, height=H, margin=dict(l=0, r=0, t=0, b=0, pad=0), autosize=False,
    paper_bgcolor="white", plot_bgcolor="rgba(0,0,0,0)", barmode="overlay", showlegend=False,
    shapes=shapes, annotations=annos, font=dict(family=FONT),
)
fig.write_html("out.html", config={"displayModeBar": False},
               post_script="document.body.style.margin='0';")
